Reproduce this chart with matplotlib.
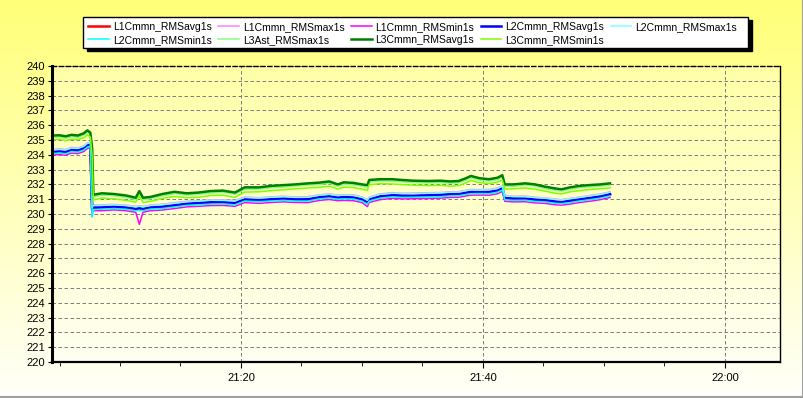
import numpy as np
import pandas as pd
import matplotlib
matplotlib.use("Agg")
import matplotlib.pyplot as plt
import matplotlib.dates as mdates
from matplotlib.patches import Rectangle
from matplotlib.lines import Line2D
from matplotlib.ticker import MultipleLocator

plt.rcParams["font.family"] = ["Liberation Sans", "DejaVu Sans"]

# sample times, minutes after 21:00
minutes = [4.4, 5.0, 5.5, 6.0, 6.5, 7.0, 7.3, 7.55, 7.7, 7.8,
           8.5, 9.5, 10.5, 11.3, 11.6, 11.9, 12.5, 13.5, 14.5, 15.5,
           16.5, 17.5, 18.5, 19.5, 20.3, 21.5, 22.5, 23.5, 24.5, 25.5,
           26.5, 27.3, 28.0, 28.5, 29.3, 30.0, 30.45, 30.6, 31.5, 32.5,
           33.3, 34.2, 35.5, 36.5, 37.3, 38.0, 38.6, 39.0, 39.7, 40.5,
           41.2, 41.6, 41.8, 42.5, 43.5, 44.3, 45.1, 46.0, 46.5, 47.2,
           48.0, 48.9, 49.7, 50.5]

l1_avg = [234.15, 234.22, 234.16, 234.30, 234.27, 234.40, 234.60, 234.66, 230.25, 230.40,
          230.42, 230.46, 230.40, 230.32, 230.36, 230.30, 230.42, 230.46, 230.57, 230.66,
          230.72, 230.76, 230.77, 230.71, 230.96, 230.92, 230.97, 231.01, 230.97, 230.96,
          231.11, 231.17, 231.08, 231.12, 231.09, 230.96, 230.76, 230.96, 231.17, 231.24,
          231.22, 231.21, 231.25, 231.26, 231.32, 231.31, 231.42, 231.46, 231.47, 231.46,
          231.57, 231.71, 231.06, 231.02, 231.01, 230.95, 230.91, 230.82, 230.78, 230.87,
          230.96, 231.07, 231.16, 231.31]
l1_max = [234.35, 234.40, 234.36, 234.50, 234.46, 234.60, 234.80, 234.85, 230.50, 230.60,
          230.62, 230.65, 230.60, 230.52, 230.55, 230.52, 230.60, 230.66, 230.76, 230.86,
          230.90, 230.96, 230.95, 230.92, 231.15, 231.10, 231.16, 231.20, 231.15, 231.17,
          231.30, 231.36, 231.28, 231.30, 231.29, 231.16, 230.96, 231.15, 231.36, 231.44,
          231.40, 231.41, 231.44, 231.45, 231.50, 231.51, 231.60, 231.66, 231.65, 231.66,
          231.76, 231.90, 231.26, 231.20, 231.21, 231.13, 231.10, 231.01, 230.97, 231.06,
          231.15, 231.26, 231.35, 231.50]
l1_min = [233.98, 234.02, 233.97, 234.12, 234.08, 234.22, 234.42, 234.50, 230.05, 230.22,
          230.22, 230.28, 230.22, 230.12, 229.30, 230.12, 230.22, 230.27, 230.37, 230.48,
          230.52, 230.57, 230.58, 230.52, 230.77, 230.72, 230.78, 230.82, 230.78, 230.77,
          230.92, 230.98, 230.90, 230.92, 230.90, 230.77, 230.50, 230.78, 230.97, 231.06,
          231.02, 231.03, 231.05, 231.07, 231.12, 231.13, 231.22, 231.27, 231.28, 231.27,
          231.37, 231.52, 230.86, 230.82, 230.83, 230.75, 230.72, 230.62, 230.60, 230.67,
          230.78, 230.87, 230.97, 231.12]
l2_avg = [234.20, 234.25, 234.20, 234.35, 234.30, 234.45, 234.65, 234.70, 230.30, 230.45,
          230.45, 230.50, 230.45, 230.35, 230.40, 230.35, 230.45, 230.50, 230.60, 230.70,
          230.75, 230.80, 230.80, 230.75, 231.00, 230.95, 231.00, 231.05, 231.00, 231.00,
          231.15, 231.20, 231.12, 231.15, 231.13, 231.00, 230.80, 231.00, 231.20, 231.28,
          231.25, 231.25, 231.28, 231.30, 231.35, 231.35, 231.45, 231.50, 231.50, 231.50,
          231.60, 231.75, 231.10, 231.05, 231.05, 230.98, 230.95, 230.85, 230.82, 230.90,
          231.00, 231.10, 231.20, 231.35]
l2_max = [234.33, 234.36, 234.33, 234.46, 234.43, 234.57, 234.77, 234.82, 230.45, 230.57,
          230.58, 230.62, 230.57, 230.48, 230.52, 230.48, 230.57, 230.63, 230.72, 230.83,
          230.87, 230.93, 230.92, 230.88, 231.12, 231.08, 231.13, 231.17, 231.12, 231.13,
          231.27, 231.33, 231.24, 231.28, 231.25, 231.13, 230.93, 231.12, 231.33, 231.40,
          231.38, 231.37, 231.40, 231.43, 231.47, 231.48, 231.57, 231.63, 231.62, 231.63,
          231.72, 231.88, 231.22, 231.18, 231.17, 231.11, 231.07, 230.98, 230.94, 231.03,
          231.12, 231.23, 231.32, 231.47]
l2_min = [234.08, 234.12, 234.07, 234.22, 234.18, 234.32, 234.52, 234.58, 229.80, 230.30,
          230.33, 230.37, 230.32, 230.22, 230.25, 230.22, 230.33, 230.37, 230.47, 230.58,
          230.62, 230.67, 230.68, 230.62, 230.87, 230.83, 230.88, 230.92, 230.87, 230.87,
          231.02, 231.08, 231.00, 231.02, 231.01, 230.87, 230.66, 230.88, 231.07, 231.16,
          231.12, 231.13, 231.15, 231.17, 231.22, 231.23, 231.32, 231.37, 231.38, 231.37,
          231.47, 231.62, 230.96, 230.92, 230.93, 230.85, 230.82, 230.72, 230.70, 230.77,
          230.88, 230.97, 231.07, 231.22]
l3ast_max = [235.18, 235.22, 235.12, 235.24, 235.18, 235.33, 235.52, 235.40, 234.20, 231.18,
             231.27, 231.24, 231.12, 230.98, 231.40, 230.99, 231.03, 231.22, 231.38, 231.29,
             231.33, 231.42, 231.47, 231.34, 231.67, 231.69, 231.78, 231.82, 231.89, 231.95,
             232.00, 232.08, 231.88, 232.01, 231.98, 231.88, 231.82, 232.17, 232.24, 232.22,
             232.18, 232.13, 232.11, 232.12, 232.08, 232.11, 232.30, 232.44, 232.30, 232.23,
             232.33, 232.50, 231.88, 231.87, 231.95, 231.88, 231.73, 231.60, 231.55, 231.68,
             231.78, 231.84, 231.88, 231.95]
l3_avg = [235.30, 235.32, 235.25, 235.35, 235.30, 235.45, 235.65, 235.50, 234.40, 231.30,
          231.40, 231.35, 231.25, 231.10, 231.55, 231.10, 231.15, 231.35, 231.50, 231.40,
          231.45, 231.55, 231.58, 231.45, 231.80, 231.80, 231.90, 231.95, 232.00, 232.07,
          232.12, 232.20, 232.00, 232.14, 232.10, 232.00, 231.95, 232.30, 232.35, 232.35,
          232.30, 232.25, 232.23, 232.25, 232.20, 232.23, 232.42, 232.57, 232.42, 232.35,
          232.45, 232.62, 232.00, 232.00, 232.07, 232.00, 231.85, 231.72, 231.67, 231.80,
          231.90, 231.96, 232.00, 232.07]
l3_min = [235.00, 235.05, 234.95, 235.05, 235.02, 235.15, 235.35, 235.20, 233.90, 230.95,
          231.08, 231.02, 230.92, 230.80, 231.20, 230.78, 230.85, 231.05, 231.18, 231.10,
          231.13, 231.25, 231.27, 231.12, 231.48, 231.50, 231.58, 231.63, 231.70, 231.76,
          231.80, 231.88, 231.68, 231.82, 231.78, 231.68, 231.60, 231.98, 232.05, 232.03,
          231.98, 231.95, 231.92, 231.94, 231.88, 231.92, 232.10, 232.26, 232.12, 232.05,
          232.15, 232.30, 231.68, 231.70, 231.76, 231.68, 231.55, 231.40, 231.36, 231.50,
          231.58, 231.66, 231.70, 231.76]

labels = ["L1Cmmn_RMSavg1s", "L1Cmmn_RMSmax1s", "L1Cmmn_RMSmin1s",
          "L2Cmmn_RMSavg1s", "L2Cmmn_RMSmax1s", "L2Cmmn_RMSmin1s",
          "L3Ast_RMSmax1s", "L3Cmmn_RMSavg1s", "L3Cmmn_RMSmin1s"]
colors = ["#FF0000", "#FF80FF", "#FF00FF",
          "#0000FF", "#80FFFF", "#00FFFF",
          "#80FF80", "#008000", "#80FF00"]
values = [l1_avg, l1_max, l1_min, l2_avg, l2_max, l2_min, l3ast_max, l3_avg, l3_min]

W, H = 804, 398


def vgrad(top, bottom, n=256):
    t = np.linspace(0, 1, n)[:, None, None]
    top = np.array(top, float)[None, None, :] / 255
    bottom = np.array(bottom, float)[None, None, :] / 255
    return (1 - t) * top + t * bottom


def main():
    fig = plt.figure(figsize=(W / 100, H / 100), dpi=100)

    # figure background gradient
    bg = fig.add_axes([0, 0, 1, 1], zorder=-10)
    bg.imshow(vgrad((255, 255, 120), (255, 255, 250)), aspect="auto", extent=(0, 1, 0, 1))
    bg.set_axis_off()

    x0, x1, y0, y1 = 52, 780, 66, 362
    pos = [x0 / W, 1 - y1 / H, (x1 - x0) / W, (y1 - y0) / H]
    pbg = fig.add_axes(pos, zorder=-5)
    pbg.imshow(vgrad((255, 255, 168), (255, 255, 242)), aspect="auto", extent=(0, 1, 0, 1))
    pbg.set_axis_off()

    ax = fig.add_axes(pos, zorder=1)
    ax.set_facecolor("none")

    base = pd.Timestamp("2024-01-01 21:00")
    times = base + pd.to_timedelta(minutes, unit="m")

    lines = []
    for lab, col, vals in zip(labels, colors, values):
        lw = 1.8 if "avg" in lab else 1.1
        ln, = ax.plot(times, vals, color=col, lw=lw, label=lab)
        lines.append(ln)

    ax.set_xlim(base + pd.Timedelta(minutes=4.38), base + pd.Timedelta(minutes=64.55))
    ax.set_ylim(220, 240)
    ax.yaxis.set_major_locator(MultipleLocator(1))
    ax.xaxis.set_major_locator(mdates.MinuteLocator(byminute=[0, 20, 40]))
    ax.xaxis.set_minor_locator(mdates.MinuteLocator(byminute=range(0, 60, 5)))
    ax.xaxis.set_major_formatter(mdates.DateFormatter("%H:%M"))

    ax.grid(True, which="major", color="#808080", lw=0.72, linestyle=(0, (3.5, 2.5)))
    ax.tick_params(axis="y", labelsize=8, length=3, pad=2, direction="out")
    ax.tick_params(axis="x", which="major", labelsize=8, length=4, pad=4, direction="out")
    ax.tick_params(axis="x", which="minor", length=3, direction="out")

    ax.spines["left"].set_linewidth(2.2)
    ax.spines["bottom"].set_linewidth(1.6)
    ax.spines["right"].set_linewidth(1.0)
    ax.spines["top"].set_linewidth(1.0)
    ax.spines["top"].set_linestyle((0, (3, 2)))

    # legend box with shadow
    bx0, bx1, by0, by1 = 83, 748, 17, 48
    fig.patches.append(Rectangle(((bx0 + 4) / W, 1 - (by1 + 3) / H), (bx1 - bx0) / W, (by1 - by0) / H,
                                 transform=fig.transFigure, facecolor="black", edgecolor="black", zorder=2))
    fig.patches.append(Rectangle((bx0 / W, 1 - by1 / H), (bx1 - bx0) / W, (by1 - by0) / H,
                                 transform=fig.transFigure, facecolor="white", edgecolor="black", lw=1, zorder=3))

    # legend fills column by column, so reorder to get the rows of the original
    order = [0, 5, 1, 6, 2, 7, 3, 8, 4]
    handles = [lines[i] for i in order]
    leg = fig.legend(handles=handles, loc="upper left", bbox_to_anchor=(88 / W, 1 - 22 / H),
                     ncol=5, frameon=False, fontsize=7.5, borderpad=0, borderaxespad=0,
                     handlelength=2.0, handletextpad=0.38, columnspacing=0.6, labelspacing=0.3)
    leg.set_zorder(4)

    # outer frame (right and bottom edges)
    fig.add_artist(Line2D([1 - 0.5 / W, 1 - 0.5 / W], [0, 1], color="#A0A0A0", lw=1.5))
    fig.add_artist(Line2D([0, 1], [1.5 / H, 1.5 / H], color="#A0A0A0", lw=1.5))

    fig.savefig("out.png", dpi=100)


if __name__ == "__main__":
    main()
